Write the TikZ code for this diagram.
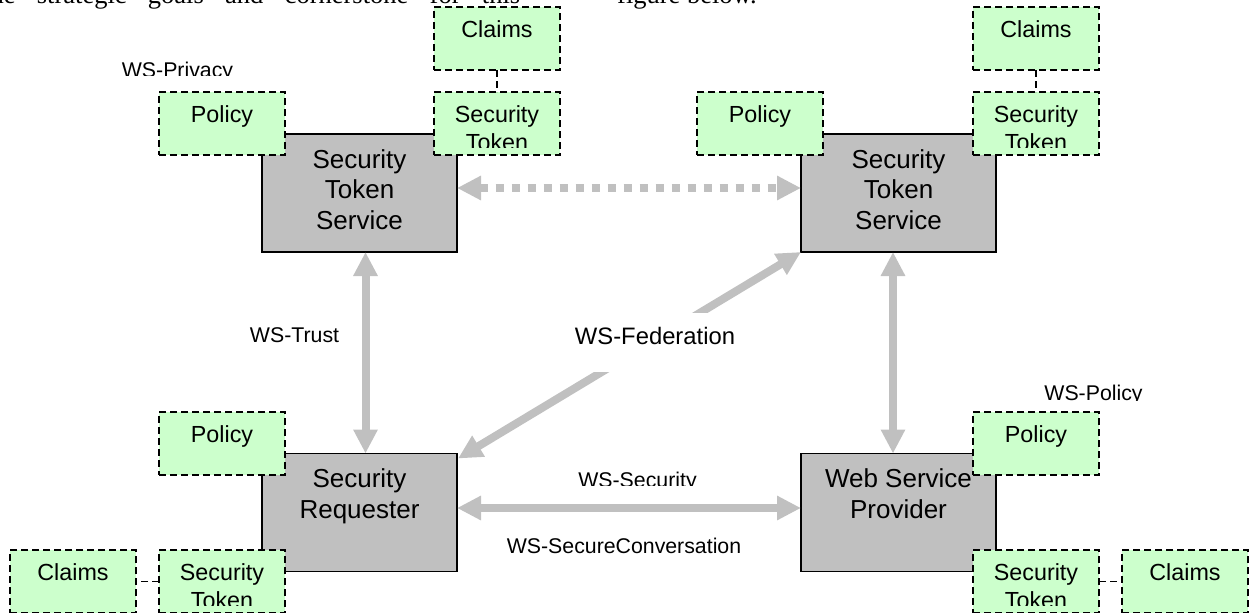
\documentclass[tikz,border=0pt]{standalone}
\usepackage{fontspec}
\setmainfont{Liberation Sans}
\newfontfamily\serifrm{Liberation Serif}
\usetikzlibrary{arrows.meta,calc}
\definecolor{boxgray}{HTML}{C0C0C0}
\definecolor{arrowgray}{HTML}{C0C0C0}
\definecolor{tokgreen}{HTML}{CCFFCC}
\newcommand\mylines[1]{\begin{tabular}[t]{@{}c@{}}#1\end{tabular}}
\begin{document}
\begin{tikzpicture}[x=1pt,y=-1pt,
  svcbox/.style={draw=black, line width=1.8pt, fill=boxgray, minimum width=195pt, minimum height=118pt, inner sep=0pt, outer sep=0pt},
  svctext/.style={font=\fontsize{26}{30.5}\selectfont, inner sep=0pt, anchor=base},
  greenbox/.style={draw=black, line width=1.3pt, dash pattern=on 7pt off 4pt, fill=tokgreen, minimum width=126pt, minimum height=63pt, inner sep=0pt, outer sep=0pt},
  greentext/.style={font=\fontsize{23.3}{27.5}\selectfont, inner sep=0pt, anchor=base},
  proto/.style={font=\fontsize{21.3}{25}\selectfont, inner sep=0pt, anchor=base},
  link/.style={draw=black, line width=1.3pt, dash pattern=on 7pt off 4pt},
  flowtip/.tip={Triangle[length=24pt,width=23pt]},
  flow/.style={draw=arrowgray, line width=8pt, flowtip-flowtip},
  dotflow/.style={flow, dash pattern=on 8pt off 8pt},
  toptext/.style={font=\serifrm\fontsize{26.5}{30}\selectfont, inner sep=0pt, anchor=base west}
]
\useasboundingbox (0,0) rectangle (1251,613);

% cut-off line of the surrounding document
\node[toptext] (topline) at (-17,4) {\makebox[537pt][s]{the strategic goals and cornerstone for this}};
\node[toptext] (topline2) at (617,4) {figure below.};

% service boxes
\node[svcbox] (sts1) at (359.5,193) {};
\node[svcbox] (sts2) at (898.5,193) {};
\node[svcbox] (req)  at (359.5,512.5) {};
\node[svcbox] (wsp)  at (898.5,512.5) {};
\node[svctext] (sts1t) at ([yshift=-34.3pt]sts1.north) {\mylines{Security\\Token\\Service}};
\node[svctext] (sts2t) at ([yshift=-34.3pt]sts2.north) {\mylines{Security\\Token\\Service}};
\node[svctext] (reqt)  at ([yshift=-34.3pt]req.north) {\mylines{Security\\Requester}};
\node[svctext] (wspt)  at ([yshift=-34.3pt]wsp.north) {\mylines{Web Service\\Provider}};

% green boxes
\node[greenbox] (pol1)    at (222,123.5) {};
\node[greenbox] (claims1) at (497,38.5) {};
\node[greenbox] (tok1)    at (497,123.5) {};
\node[greenbox] (pol2)    at (760,123.5) {};
\node[greenbox] (claims2) at (1036,38.5) {};
\node[greenbox] (tok2)    at (1036,123.5) {};
\node[greenbox] (pol3)    at (222,443.5) {};
\node[greenbox] (tok3)    at (222,581.5) {};
\node[greenbox] (claims3) at (73,581.5) {};
\node[greenbox] (pol4)    at (1036,443.5) {};
\node[greenbox] (tok4)    at (1036,581.5) {};
\node[greenbox] (claims4) at (1185,581.5) {};

\foreach \b/\t in {pol1/Policy, pol2/Policy, pol3/Policy, pol4/Policy,
                   claims1/Claims, claims2/Claims, claims3/Claims, claims4/Claims}
  \node[greentext] at ([yshift=-30.7pt]\b.north) {\t};

\foreach \b in {tok1,tok2,tok3,tok4}{
  \begin{scope}
    \clip (\b.north west) rectangle ([yshift=8pt]\b.south east);
    \node[greentext] at ([yshift=-30.7pt]\b.north) {\mylines{Security\\Token}};
  \end{scope}
}

% dashed links claims - token
\draw[link] (claims1) -- (tok1);
\draw[link] (claims2) -- (tok2);
\draw[link] (tok3) -- (claims3);
\draw[link] (tok4) -- (claims4);

% protocol arrows
\draw[dotflow] ([yshift=5pt]sts1.east) -- ([yshift=5pt]sts2.west);
\draw[flow] ([xshift=6pt]sts1.south) -- ([xshift=6pt]req.north);
\draw[flow] ([xshift=-5.5pt]sts2.south) -- ([xshift=-5.5pt]wsp.north);
\draw[flow] ([xshift=1pt,yshift=-5pt]req.north east) -- (sts2.south west);
\draw[flow] ([yshift=4.5pt]req.east) -- ([yshift=4.5pt]wsp.west);

% labels
\node[proto] (trust) at (294.5,342.5) {WS-Trust};
\node[proto, font=\fontsize{23.8}{28}\selectfont, fill=white, text height=31pt, text depth=28pt] (fed) at (655,344) {WS-Federation};
\node[proto] (secconv) at (624,553.5) {WS-SecureConversation};
\begin{scope}
  \clip (560,460) rectangle (720,485);
  \node[proto] (sec) at (637.5,487) {WS-Security};
\end{scope}
\begin{scope}
  \clip (100,50) rectangle (260,75);
  \node[proto] (priv) at (177.5,77) {WS-Privacy};
\end{scope}
\begin{scope}
  \clip (1020,370) rectangle (1170,400.5);
  \node[proto] (pol) at (1093.5,400.5) {WS-Policy};
\end{scope}
\end{tikzpicture}
\end{document}
